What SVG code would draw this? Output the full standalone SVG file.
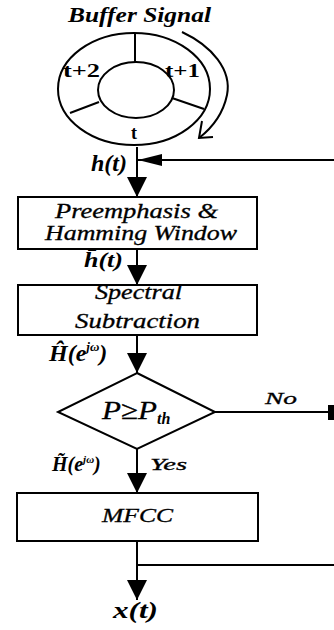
<svg xmlns="http://www.w3.org/2000/svg" width="334" height="630" viewBox="0 0 334 630">
<style>
.box{fill:#fff;stroke:#000;stroke-width:2}
.ln{fill:none;stroke:#000;stroke-width:2}
.lbl{font-family:"Liberation Serif","DejaVu Serif",serif;font-style:italic;fill:#000;stroke:#000;stroke-width:0.3}
.math{font-family:"Liberation Serif","DejaVu Serif",serif;font-style:italic;font-weight:bold;fill:#000}
.bold{font-family:"Liberation Serif","DejaVu Serif",serif;font-weight:bold;fill:#000}
</style>
<defs>
<marker id="ah" viewBox="0 0 20 20" refX="20" refY="10" markerWidth="20" markerHeight="20" markerUnits="userSpaceOnUse" orient="auto">
<path d="M0,0 L20,10 L0,20 z" fill="#000"/>
</marker>
<marker id="ahl" viewBox="0 0 24 12" refX="24" refY="6" markerWidth="24" markerHeight="12" markerUnits="userSpaceOnUse" orient="auto">
<path d="M0,0 L24,6 L0,12 z" fill="#000"/>
</marker>
</defs>
<rect width="334" height="630" fill="#fff"/>

<g id="buffer">
<text class="math" x="68" y="22" font-size="20" textLength="143" lengthAdjust="spacingAndGlyphs">Buffer Signal</text>
<ellipse class="ln" cx="134" cy="89" rx="76" ry="56"/>
<ellipse class="ln" cx="136" cy="90" rx="38" ry="28"/>
<path class="ln" d="M135,33 V62 M70,113 L99,102 M172,98 L204,109"/>
<text class="bold" x="63" y="77" font-size="18" textLength="37" lengthAdjust="spacingAndGlyphs">t+2</text>
<text class="bold" x="165" y="77" font-size="18" textLength="35" lengthAdjust="spacingAndGlyphs">t+1</text>
<text class="bold" x="131" y="139" font-size="18">t</text>
<path class="ln" d="M182,32 C212,46 232,70 227,95 C223,114 212,128 199,138"/>
<path class="ln" d="M202,121 L199,138 L213,137"/>
</g>

<g id="preemphasis">
<rect class="box" x="18" y="197" width="239" height="52"/>
<text class="lbl" x="55" y="218" font-size="20" textLength="163" lengthAdjust="spacingAndGlyphs">Preemphasis &amp;</text>
<text class="lbl" x="45" y="240" font-size="20" textLength="192" lengthAdjust="spacingAndGlyphs">Hamming Window</text>
</g>

<g id="spectral">
<rect class="box" x="18" y="285" width="239" height="50"/>
<text class="lbl" x="95" y="299" font-size="20" textLength="87" lengthAdjust="spacingAndGlyphs">Spectral</text>
<text class="lbl" x="75" y="328" font-size="20" textLength="125" lengthAdjust="spacingAndGlyphs">Subtraction</text>
</g>

<g id="decision">
<path class="box" d="M137,373 L215,412 L137,449 L58,412 z"/>
<text class="lbl" x="102" y="419" font-size="26" textLength="55" lengthAdjust="spacingAndGlyphs">P≥P</text>
<text class="math" x="157" y="424" font-size="16">th</text>
</g>

<g id="mfcc">
<rect class="box" x="17" y="493" width="241" height="48"/>
<text class="lbl" x="102" y="522" font-size="19" textLength="71" lengthAdjust="spacingAndGlyphs">MFCC</text>
</g>

<g id="connectors">
<path class="ln" d="M137,147 V197" marker-end="url(#ah)"/>
<path class="ln" d="M334,160 H138" marker-end="url(#ahl)"/>
<path class="ln" d="M137,249 V285" marker-end="url(#ah)"/>
<path class="ln" d="M137,335 V373" marker-end="url(#ah)"/>
<path class="ln" d="M137,449 V493" marker-end="url(#ah)"/>
<path class="ln" d="M137,541 V600" marker-end="url(#ah)"/>
<path class="ln" d="M137,565 H334"/>
<path class="ln" d="M215,412 H329"/>
<rect x="328" y="405" width="6" height="15" fill="#000"/>
</g>

<g id="labels">
<text class="math" x="91" y="171" font-size="23" textLength="36" lengthAdjust="spacingAndGlyphs">h(t)</text>
<text class="math" x="84" y="267" font-size="20" textLength="39" lengthAdjust="spacingAndGlyphs">h̄(t)</text>
<text class="math" x="49" y="361" font-size="24">Ĥ(e<tspan font-size="13" dy="-10">jω</tspan><tspan dy="10">)</tspan></text>
<text class="math" x="52" y="471" font-size="20">H̃(e<tspan font-size="11" dy="-8">jω</tspan><tspan dy="8">)</tspan></text>
<text class="lbl" x="150" y="470" font-size="17" textLength="37" lengthAdjust="spacingAndGlyphs">Yes</text>
<text class="lbl" x="265" y="404" font-size="17" textLength="32" lengthAdjust="spacingAndGlyphs">No</text>
<text class="math" x="113" y="618" font-size="23" textLength="45" lengthAdjust="spacingAndGlyphs">x(t)</text>
</g>
</svg>
